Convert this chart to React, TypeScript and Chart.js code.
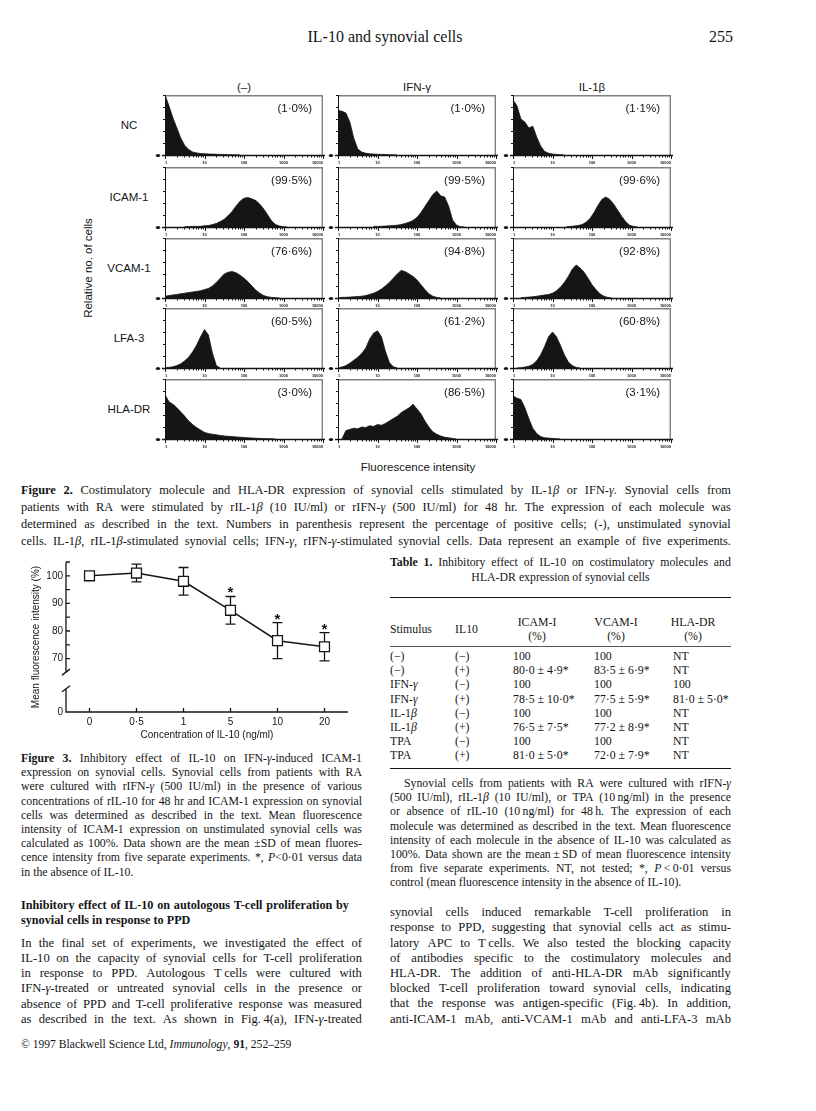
import React, { useEffect, useLayoutEffect, useRef } from "react";
import { Chart, registerables } from "chart.js";

Chart.register(...registerables);

const INK = "#151515";
const SERIF = '"Liberation Serif", "Times New Roman", serif';
const SANS = '"Liberation Sans", Arial, Helvetica, sans-serif';

// ---------------- Figure 2 data (flow cytometry histograms) ----------------
const stimulusHeaders = ["(–)", "IFN-γ", "IL-1β"];
const markerLabels = ["NC", "ICAM-1", "VCAM-1", "LFA-3", "HLA-DR"];
const decadeTickLabels = ["1", "10", "100", "1000", "10000"];
const pctNone = ["1·0", "99·5", "76·6", "60·5", "3·0"];
const pctIfn = ["1·0", "99·5", "94·8", "61·2", "86·5"];
const pctIl1 = ["1·1", "99·6", "92·8", "60·8", "3·1"];

const BIN_STEP = 0.1; // decades per histogram bin
// first bin (in decades of log fluorescence) of each histogram, per row
const startNone = [0, 0.5, 0, 0, 0];
const startIfn = [0, 0.9, 0, 0, 0.1];
const startIl1 = [0, 1.35, 0.2, 0.1, 0];

// relative number of cells (% of panel height) per bin
const hNoneNC = [100, 82, 62, 45, 28, 16, 9, 5, 3.5, 2.5, 2, 1.7, 1.5, 1.2, 1, 0.8, 0.6, 0.4, 0.3, 0];
const hNoneICAM = [0.5, 0.8, 1, 1, 1.2, 2, 2.5, 4, 6, 9, 13, 19, 26, 35, 43, 48, 49, 47, 44, 38, 30, 20, 10, 4, 1.5, 0.5, 0];
const hNoneVCAM = [3, 4, 5, 6, 7, 8, 9, 10, 11, 12, 14, 16, 20, 26, 33, 40, 43, 44, 42, 38, 33, 27, 20, 13, 8, 4, 2, 1, 0.5, 0];
const hNoneLFA = [0.5, 1, 2, 4, 7, 12, 18, 27, 38, 52, 64, 55, 25, 4, 0];
const hNoneHLA = [74, 62, 58, 52, 45, 38, 30, 24, 19, 15, 11, 9, 8, 7, 6, 5, 4.5, 4, 3.5, 3, 2.5, 2, 1.6, 1.2, 1, 0.7, 0.5, 0.3, 0];

const hIfnNC = [74, 73, 70, 55, 28, 10, 5, 3, 2, 1.5, 1.2, 1, 0.8, 0.5, 0.3, 0];
const hIfnICAM = [1, 1, 1.2, 1.5, 2, 2.5, 3, 4, 6, 8, 11, 16, 24, 34, 44, 54, 60, 52, 50, 35, 12, 3, 0.5, 0];
const hIfnVCAM = [0.5, 1, 1.2, 1.5, 2, 2.5, 3, 4, 6, 8, 11, 15, 20, 26, 33, 40, 46, 44, 40, 36, 30, 22, 14, 7, 3, 1, 0];
const hIfnLFA = [0.5, 1.5, 4, 8, 13, 18, 24, 33, 48, 58, 62, 52, 28, 9, 2, 0];
const hIfnHLA = [0, 14, 16, 18, 17, 20, 19, 22, 21, 24, 23, 26, 30, 34, 38, 44, 48, 52, 58, 50, 42, 30, 20, 12, 8, 5, 3, 2, 1, 0];

const hIl1NC = [92, 82, 60, 55, 45, 48, 30, 15, 6, 3, 1.5, 1, 0.5, 0];
const hIl1ICAM = [0.5, 1, 1.5, 2.5, 4, 8, 14, 24, 36, 46, 50, 46, 38, 28, 18, 9, 3, 1, 0];
const hIl1VCAM = [0.5, 1, 1.5, 2, 3, 4, 5, 6, 8, 12, 18, 26, 36, 48, 55, 50, 43, 33, 22, 14, 7, 3, 1, 0];
const hIl1LFA = [0, 0.5, 1.5, 3, 6, 12, 22, 36, 52, 60, 52, 38, 22, 10, 4, 1, 0];
const hIl1HLA = [72, 68, 66, 52, 34, 18, 9, 4, 2, 1.5, 1, 0.5, 0];

const COLUMNS = [
  { header: stimulusHeaders[0], pct: pctNone, starts: startNone, hists: [hNoneNC, hNoneICAM, hNoneVCAM, hNoneLFA, hNoneHLA] },
  { header: stimulusHeaders[1], pct: pctIfn, starts: startIfn, hists: [hIfnNC, hIfnICAM, hIfnVCAM, hIfnLFA, hIfnHLA] },
  { header: stimulusHeaders[2], pct: pctIl1, starts: startIl1, hists: [hIl1NC, hIl1ICAM, hIl1VCAM, hIl1LFA, hIl1HLA] },
];

// ---------------- Figure 3 data ----------------
const concLabels = ["0", "0·5", "1", "5", "10", "20"];
const meanIntensity = [100, 101, 98, 87.5, 76.5, 74.3];
const sdIntensity = [0.5, 3.2, 5, 5, 6.5, 5.1];
const significant = [false, false, false, true, true, true];
const yTickValues = [70, 80, 90, 100];
const yAxisZeroAt = 50.65; // position on the broken axis that is labelled "0"
const yBreakLow = 59.1;
const yBreakHigh = 65.1;

// ---------------- Table 1 data ----------------
const tblStimulus = ["(−)", "(−)", "IFN-_γ_", "IFN-_γ_", "IL-1_β_", "IL-1_β_", "TPA", "TPA"];
const tblIL10 = ["(−)", "(+)", "(−)", "(+)", "(−)", "(+)", "(−)", "(+)"];
const tblICAM = ["100", "80·0 ± 4·9*", "100", "78·5 ± 10·0*", "100", "76·5 ± 7·5*", "100", "81·0 ± 5·0*"];
const tblVCAM = ["100", "83·5 ± 6·9*", "100", "77·5 ± 5·9*", "100", "77·2 ± 8·9*", "100", "72·0 ± 7·9*"];
const tblHLA = ["NT", "NT", "100", "81·0 ± 5·0*", "NT", "NT", "NT", "NT"];

// ---------------- Text ----------------
const fig2Caption = [
  "**Figure 2.** Costimulatory molecule and HLA-DR expression of synovial cells stimulated by IL-1_β_ or IFN-_γ_. Synovial cells from",
  "patients with RA were stimulated by rIL-1_β_ (10 IU/ml) or rIFN-_γ_ (500 IU/ml) for 48 hr. The expression of each molecule was",
  "determined as described in the text. Numbers in parenthesis represent the percentage of positive cells; (-), unstimulated synovial",
  "cells. IL-1_β_, rIL-1_β_-stimulated synovial cells; IFN-_γ_, rIFN-_γ_-stimulated synovial cells. Data represent an example of five experiments.",
];
const fig3Caption = [
  "**Figure 3.** Inhibitory effect of IL-10 on IFN-_γ_-induced ICAM-1",
  "expression on synovial cells. Synovial cells from patients with RA",
  "were cultured with rIFN-_γ_ (500 IU/ml) in the presence of various",
  "concentrations of rIL-10 for 48 hr and ICAM-1 expression on synovial",
  "cells was determined as described in the text. Mean fluorescence",
  "intensity of ICAM-1 expression on unstimulated synovial cells was",
  "calculated as 100%. Data shown are the mean ±SD of mean fluores-",
  "cence intensity from five separate experiments. *, _P_<0·01 versus data",
  "in the absence of IL-10.",
];
const leftHeading = [
  "**Inhibitory effect of IL-10 on autologous T-cell proliferation by**",
  "**synovial cells in response to PPD**",
];
const leftBody = [
  "In the final set of experiments, we investigated the effect of",
  "IL-10 on the capacity of synovial cells for T-cell proliferation",
  "in response to PPD. Autologous T\u2009cells were cultured with",
  "IFN-_γ_-treated or untreated synovial cells in the presence or",
  "absence of PPD and T-cell proliferative response was measured",
  "as described in the text. As shown in Fig.\u20094(a), IFN-_γ_-treated",
];
const tableTitle = [
  "**Table 1.** Inhibitory effect of IL-10 on costimulatory molecules and",
  "HLA-DR expression of synovial cells",
];
const rightCaption = [
  "Synovial cells from patients with RA were cultured with rIFN-_γ_",
  "(500 IU/ml), rIL-1_β_ (10 IU/ml), or TPA (10\u2009ng/ml) in the presence",
  "or absence of rIL-10 (10\u2009ng/ml) for 48\u2009h. The expression of each",
  "molecule was determined as described in the text. Mean fluorescence",
  "intensity of each molecule in the absence of IL-10 was calculated as",
  "100%. Data shown are the mean\u2009±\u2009SD of mean fluorescence intensity",
  "from five separate experiments. NT, not tested; *, _P_\u2009<\u20090·01 versus",
  "control (mean fluorescence intensity in the absence of IL-10).",
];
const rightBody = [
  "synovial cells induced remarkable T-cell proliferation in",
  "response to PPD, suggesting that synovial cells act as stimu-",
  "latory APC to T\u2009cells. We also tested the blocking capacity",
  "of antibodies specific to the costimulatory molecules and",
  "HLA-DR. The addition of anti-HLA-DR mAb significantly",
  "blocked T-cell proliferation toward synovial cells, indicating",
  "that the response was antigen-specific (Fig.\u20094b). In addition,",
  "anti-ICAM-1 mAb, anti-VCAM-1 mAb and anti-LFA-3 mAb",
];

// ---------------- rich text helpers ----------------
type Seg = { t: string; b: boolean; i: boolean };
function parseRich(s: string): Seg[][] {
  const words: Seg[][] = [];
  let cur: Seg[] = [];
  let b = false;
  let it = false;
  let buf = "";
  const flush = () => {
    if (buf) {
      cur.push({ t: buf, b, i: it });
      buf = "";
    }
  };
  for (let k = 0; k < s.length; k++) {
    if (s.startsWith("**", k)) {
      flush();
      b = !b;
      k++;
      continue;
    }
    const c = s[k];
    if (c === "_") {
      flush();
      it = !it;
      continue;
    }
    if (c === " ") {
      flush();
      if (cur.length) words.push(cur);
      cur = [];
      continue;
    }
    buf += c;
  }
  flush();
  if (cur.length) words.push(cur);
  return words;
}

function Segs({ segs }: { segs: Seg[] }) {
  return (
    <>
      {segs.map((g, k) => (
        <span key={k} style={{ fontWeight: g.b ? "bold" : "normal", fontStyle: g.i ? "italic" : "normal" }}>
          {g.t}
        </span>
      ))}
    </>
  );
}

function TextLine(props: any) {
  const { x, y, w, text, size, lh, justify = false, family = SERIF, align = "left", indent = 0, italic = false } = props;
  const ref = useRef<HTMLDivElement>(null);
  const words = parseRich(text);
  useLayoutEffect(() => {
    const el = ref.current;
    if (!el || !justify) return;
    let fs = size;
    const kids = Array.from(el.children) as HTMLElement[];
    for (let g = 0; g < 60; g++) {
      const sum = kids.reduce((a, k) => a + k.getBoundingClientRect().width, 0);
      if (sum + (kids.length - 1) * fs * 0.17 <= w - indent) break;
      fs -= 0.1;
      el.style.fontSize = fs + "px";
    }
  }, []);
  const base: any = {
    position: "absolute",
    left: x + indent,
    top: y - lh / 2,
    height: lh,
    lineHeight: lh + "px",
    fontSize: size,
    fontFamily: family,
    fontStyle: italic ? "italic" : "normal",
    color: INK,
    whiteSpace: "nowrap",
  };
  if (w !== undefined) base.width = w - indent;
  if (justify) {
    return (
      <div ref={ref} style={{ ...base, display: "flex", justifyContent: "space-between" }}>
        {words.map((wd, k) => (
          <span key={k}>
            <Segs segs={wd} />
          </span>
        ))}
      </div>
    );
  }
  return (
    <div ref={ref} style={{ ...base, textAlign: align }}>
      {words.map((wd, k) => (
        <React.Fragment key={k}>
          {k > 0 ? " " : ""}
          <Segs segs={wd} />
        </React.Fragment>
      ))}
    </div>
  );
}

// ---------------- Histogram panels ----------------
const COL_LEFT = [165, 338, 513];
const ROW_TOP = [95, 167, 238, 308, 379];
const FRAME_W = 158;
const FRAME_H = 60;
const PAD_L = 12;
const PAD_R = 6;
const PAD_T = 3;
const PAD_B = 11;

const histFramePlugin = {
  id: "histFrame",
  afterDraw(chart: any) {
    const { ctx, chartArea: a, scales } = chart;
    const xs = scales.x;
    const ys = scales.y;
    ctx.save();
    // light frame (top & right)
    ctx.strokeStyle = "#808080";
    ctx.lineWidth = 1.4;
    ctx.beginPath();
    ctx.moveTo(a.left, a.top + 0.7);
    ctx.lineTo(a.right - 0.7, a.top + 0.7);
    ctx.lineTo(a.right - 0.7, a.bottom);
    ctx.stroke();
    // y axis
    ctx.strokeStyle = INK;
    ctx.lineWidth = 1;
    ctx.beginPath();
    ctx.moveTo(a.left + 0.5, a.top);
    ctx.lineTo(a.left + 0.5, a.bottom);
    for (const f of [20, 40, 60, 80, 100]) {
      const y = Math.round(ys.getPixelForValue(f)) + 0.5;
      ctx.moveTo(a.left - 2, y);
      ctx.lineTo(a.left, y);
    }
    ctx.stroke();
    // baseline
    ctx.lineWidth = 1.5;
    ctx.beginPath();
    ctx.moveTo(a.left - 3, a.bottom + 0.5);
    ctx.lineTo(a.right + 2, a.bottom + 0.5);
    ctx.stroke();
    ctx.fillStyle = INK;
    ctx.beginPath();
    ctx.ellipse(a.left - 7, a.bottom + 0.5, 2.2, 1.6, 0, 0, Math.PI * 2);
    ctx.fill();
    // log ticks
    ctx.lineWidth = 1;
    ctx.beginPath();
    for (let d = 0; d < decadeTickLabels.length; d++) {
      const x = Math.round(xs.getPixelForValue(d)) + 0.5;
      ctx.moveTo(x, a.bottom);
      ctx.lineTo(x, a.bottom + 4);
      if (d < decadeTickLabels.length - 1) {
        for (let k = 2; k <= 9; k++) {
          const xm = Math.round(xs.getPixelForValue(d + Math.log10(k))) + 0.5;
          ctx.moveTo(xm, a.bottom);
          ctx.lineTo(xm, a.bottom + 2.5);
        }
      }
    }
    ctx.stroke();
    ctx.font = `bold 4px ${SANS}`;
    ctx.textBaseline = "middle";
    decadeTickLabels.forEach((t, d) => {
      ctx.textAlign = d === 0 ? "left" : d === decadeTickLabels.length - 1 ? "right" : "center";
      ctx.fillText(t, xs.getPixelForValue(d), a.bottom + 7.5);
    });
    ctx.restore();
  },
};

function Histogram({ left, top, start, values }: any) {
  const ref = useRef<HTMLCanvasElement>(null);
  const w = FRAME_W + PAD_L + PAD_R;
  const h = FRAME_H + PAD_T + PAD_B;
  useEffect(() => {
    const pts = values.map((v: number, i: number) => ({ x: start + i * BIN_STEP, y: v }));
    const chart = new Chart(ref.current as HTMLCanvasElement, {
      type: "line",
      data: {
        datasets: [
          {
            data: pts,
            borderColor: INK,
            backgroundColor: INK,
            borderWidth: 0.8,
            fill: "origin",
            pointRadius: 0,
            tension: 0,
          },
        ],
      },
      options: {
        animation: false,
        responsive: false,
        devicePixelRatio: 1,
        layout: { padding: { left: PAD_L, right: PAD_R, top: PAD_T, bottom: PAD_B } },
        plugins: { legend: { display: false }, tooltip: { enabled: false } },
        scales: {
          x: { type: "linear", min: 0, max: 4, display: false },
          y: { type: "linear", min: 0, max: 100, display: false },
        },
      } as any,
      plugins: [histFramePlugin],
    });
    return () => chart.destroy();
  }, []);
  return (
    <canvas
      ref={ref}
      width={w}
      height={h}
      style={{ position: "absolute", left: left - PAD_L, top: top - PAD_T, width: w, height: h }}
    />
  );
}

// ---------------- Figure 3 chart ----------------
const fig3Plugin = {
  id: "fig3Decor",
  beforeDatasetsDraw(chart: any) {
    const { ctx, chartArea: a } = chart;
    const xs = chart.scales.x;
    const ys = chart.scales.y;
    ctx.save();
    ctx.strokeStyle = INK;
    ctx.lineWidth = 1.3;
    ctx.beginPath();
    const yb1 = ys.getPixelForValue(yBreakHigh);
    const yb2 = ys.getPixelForValue(yBreakLow);
    ctx.moveTo(a.left, a.top);
    ctx.lineTo(a.left, yb1);
    ctx.moveTo(a.left, yb2);
    ctx.lineTo(a.left, a.bottom);
    ctx.lineTo(a.right, a.bottom);
    for (const yy of [yb1, yb2]) {
      ctx.moveTo(a.left - 4, yy + 3);
      ctx.lineTo(a.left + 4, yy - 3);
    }
    for (let v = 70; v <= 105; v += 5) {
      const y = ys.getPixelForValue(v);
      ctx.moveTo(a.left, y);
      ctx.lineTo(a.left + 4, y);
    }
    concLabels.forEach((_, i) => {
      const x = xs.getPixelForValue(i);
      ctx.moveTo(x, a.bottom);
      ctx.lineTo(x, a.bottom - 4);
    });
    ctx.stroke();
    // error bars (mean ± SD)
    ctx.lineWidth = 1.3;
    ctx.beginPath();
    meanIntensity.forEach((m, i) => {
      const x = xs.getPixelForValue(i);
      const yt = ys.getPixelForValue(m + sdIntensity[i]);
      const yb = ys.getPixelForValue(m - sdIntensity[i]);
      ctx.moveTo(x, yt);
      ctx.lineTo(x, yb);
      ctx.moveTo(x - 5, yt);
      ctx.lineTo(x + 5, yt);
      ctx.moveTo(x - 5, yb);
      ctx.lineTo(x + 5, yb);
    });
    ctx.stroke();
    ctx.restore();
  },
  afterDatasetsDraw(chart: any) {
    const { ctx } = chart;
    const xs = chart.scales.x;
    const ys = chart.scales.y;
    ctx.save();
    ctx.fillStyle = INK;
    ctx.font = `bold 15px ${SANS}`;
    ctx.textAlign = "center";
    ctx.textBaseline = "alphabetic";
    meanIntensity.forEach((m, i) => {
      if (!significant[i]) return;
      const x = xs.getPixelForValue(i);
      const yt = ys.getPixelForValue(m + sdIntensity[i]);
      ctx.fillText("*", x, yt + 1);
    });
    ctx.restore();
  },
};

function Fig3Chart() {
  const ref = useRef<HTMLCanvasElement>(null);
  useEffect(() => {
    const chart = new Chart(ref.current as HTMLCanvasElement, {
      type: "line",
      data: {
        labels: concLabels,
        datasets: [
          {
            data: meanIntensity,
            borderColor: INK,
            borderWidth: 1.5,
            tension: 0,
            fill: false,
            pointStyle: "rect",
            pointRadius: 7,
            pointBackgroundColor: "#ffffff",
            pointBorderColor: INK,
            pointBorderWidth: 1.3,
          },
        ],
      },
      options: {
        animation: false,
        responsive: false,
        devicePixelRatio: 1,
        layout: { padding: { left: 10, right: 12, top: 12, bottom: 0 } },
        plugins: { legend: { display: false }, tooltip: { enabled: false } },
        scales: {
          x: {
            type: "category",
            offset: true,
            grid: { display: false, drawTicks: false },
            border: { display: false },
            ticks: { color: INK, font: { family: SANS, size: 10 }, padding: 4, maxRotation: 0, autoSkip: false },
            title: {
              display: true,
              text: "Concentration of IL-10 (ng/ml)",
              color: INK,
              font: { family: SANS, size: 10 },
              padding: { top: 0, bottom: 9 },
            },
            afterFit: (s: any) => {
              s.height = 38;
            },
          },
          y: {
            type: "linear",
            min: yAxisZeroAt,
            max: 105,
            grid: { display: false, drawTicks: false },
            border: { display: false },
            afterBuildTicks: (s: any) => {
              s.ticks = [yAxisZeroAt, ...yTickValues].map((v) => ({ value: v }));
            },
            ticks: {
              color: INK,
              font: { family: SANS, size: 10 },
              padding: 3,
              autoSkip: false,
              callback: (v: any) => (v === yAxisZeroAt ? "0" : String(v)),
            },
            title: {
              display: true,
              text: "Mean fluorescence intensity (%)",
              color: INK,
              font: { family: SANS, size: 10 },
              padding: { top: 20, bottom: 0 },
            },
            afterFit: (s: any) => {
              s.width = 56;
            },
          },
        },
      } as any,
      plugins: [fig3Plugin],
    });
    return () => chart.destroy();
  }, []);
  return (
    <canvas ref={ref} width={360} height={200} style={{ position: "absolute", left: 0, top: 550, width: 360, height: 200 }} />
  );
}

// ---------------- Page ----------------
export default function App() {
  const LEFT_X = 21;
  const COL_W = 341;
  const RIGHT_X = 390;
  return (
    <div style={{ position: "absolute", left: 0, top: 0, width: 816, height: 1111, background: "#fff", overflow: "hidden" }}>
      {/* running head */}
      <TextLine x={235} y={37} w={300} text="IL-10 and synovial cells" size={16} lh={20} align="center" italic />
      <TextLine x={680} y={37} w={53} text="255" size={16} lh={20} align="right" />

      {/* Figure 2 */}
      {COLUMNS.map((c, ci) => (
        <TextLine
          key={"h" + ci}
          x={COL_LEFT[ci]}
          y={87}
          w={FRAME_W}
          text={c.header}
          size={11.5}
          lh={14}
          align="center"
          family={SANS}
        />
      ))}
      {markerLabels.map((m, ri) => (
        <TextLine key={"m" + ri} x={99} y={ROW_TOP[ri] + 30} w={60} text={m} size={11.5} lh={14} align="center" family={SANS} />
      ))}
      <div
        style={{
          position: "absolute",
          left: 88 - 70,
          top: 268 - 7,
          width: 140,
          height: 14,
          lineHeight: "14px",
          fontSize: 11.5,
          fontFamily: SANS,
          color: INK,
          textAlign: "center",
          transform: "rotate(-90deg)",
          transformOrigin: "50% 50%",
          whiteSpace: "nowrap",
        }}
      >
        Relative no. of cells
      </div>
      {COLUMNS.map((c, ci) =>
        c.hists.map((vals, ri) => (
          <React.Fragment key={ci + "-" + ri}>
            <Histogram left={COL_LEFT[ci]} top={ROW_TOP[ri]} start={c.starts[ri]} values={vals} />
            <TextLine
              x={COL_LEFT[ci]}
              y={ROW_TOP[ri] + 13}
              w={FRAME_W - 11}
              text={"(" + c.pct[ri] + "%)"}
              size={11.5}
              lh={14}
              align="right"
              family={SANS}
            />
          </React.Fragment>
        ))
      )}
      <TextLine x={COL_LEFT[0]} y={467} w={COL_LEFT[2] + FRAME_W - COL_LEFT[0]} text="Fluorescence intensity" size={11.5} lh={14} align="center" family={SANS} />
      {fig2Caption.map((t, i) => (
        <TextLine key={"c2" + i} x={LEFT_X} y={490 + i * 17} w={710} text={t} size={12.4} lh={16} justify />
      ))}

      {/* Figure 3 */}
      <Fig3Chart />
      {fig3Caption.map((t, i) => (
        <TextLine
          key={"c3" + i}
          x={LEFT_X}
          y={758 + i * 14.2}
          w={COL_W}
          text={t}
          size={11.8}
          lh={14}
          justify={i < fig3Caption.length - 1}
        />
      ))}
      <TextLine x={LEFT_X} y={905} w={328} text={leftHeading[0]} size={12.2} lh={15} justify />
      <TextLine x={LEFT_X} y={920} text={leftHeading[1]} size={12.2} lh={15} />
      {leftBody.map((t, i) => (
        <TextLine key={"lb" + i} x={LEFT_X} y={943.3 + i * 15.2} w={COL_W} text={t} size={12.6} lh={15} justify />
      ))}
      <TextLine x={LEFT_X} y={1045} text="© 1997 Blackwell Science Ltd, _Immunology_, **91**, 252–259" size={11.6} lh={14} />

      {/* Table 1 */}
      <TextLine x={RIGHT_X} y={562} w={COL_W} text={tableTitle[0]} size={11.8} lh={14} justify />
      <TextLine x={RIGHT_X} y={577} w={COL_W} text={tableTitle[1]} size={11.8} lh={14} align="center" />
      <div style={{ position: "absolute", left: RIGHT_X, top: 597, width: COL_W, height: 1.4, background: INK }} />
      <TextLine x={500} y={622} w={74} text="ICAM-I" size={11.8} lh={14} align="center" />
      <TextLine x={500} y={636} w={74} text="(%)" size={11.8} lh={14} align="center" />
      <TextLine x={579} y={622} w={74} text="VCAM-I" size={11.8} lh={14} align="center" />
      <TextLine x={579} y={636} w={74} text="(%)" size={11.8} lh={14} align="center" />
      <TextLine x={656} y={622} w={74} text="HLA-DR" size={11.8} lh={14} align="center" />
      <TextLine x={656} y={636} w={74} text="(%)" size={11.8} lh={14} align="center" />
      <TextLine x={RIGHT_X} y={629} text="Stimulus" size={11.8} lh={14} />
      <TextLine x={455} y={629} text="IL10" size={11.8} lh={14} />
      <div style={{ position: "absolute", left: RIGHT_X, top: 646, width: COL_W, height: 0.8, background: "#555" }} />
      {tblStimulus.map((s, i) => {
        const y = 656 + i * 14.2;
        return (
          <React.Fragment key={"r" + i}>
            <TextLine x={RIGHT_X} y={y} text={s} size={11.8} lh={14} />
            <TextLine x={455} y={y} text={tblIL10[i]} size={11.8} lh={14} />
            <TextLine x={513} y={y} text={tblICAM[i]} size={11.8} lh={14} />
            <TextLine x={594} y={y} text={tblVCAM[i]} size={11.8} lh={14} />
            <TextLine x={673} y={y} text={tblHLA[i]} size={11.8} lh={14} />
          </React.Fragment>
        );
      })}
      <div style={{ position: "absolute", left: RIGHT_X, top: 768, width: COL_W, height: 1.4, background: INK }} />
      {rightCaption.map((t, i) => (
        <TextLine
          key={"rc" + i}
          x={RIGHT_X}
          y={783 + i * 14.2}
          w={COL_W}
          text={t}
          size={11.8}
          lh={14}
          indent={i === 0 ? 14 : 0}
          justify={i < rightCaption.length - 1}
        />
      ))}
      {rightBody.map((t, i) => (
        <TextLine key={"rb" + i} x={RIGHT_X} y={912.7 + i * 15.2} w={COL_W} text={t} size={12.6} lh={15} justify />
      ))}
    </div>
  );
}
